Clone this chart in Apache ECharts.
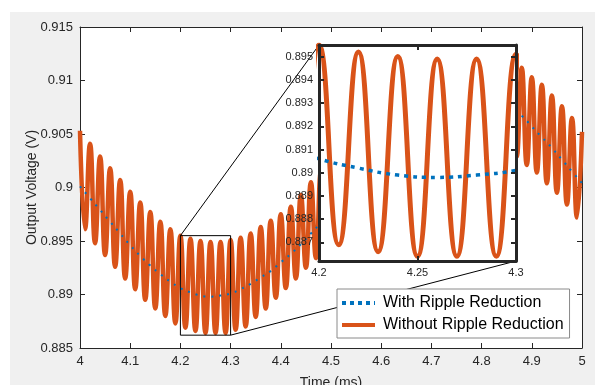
<!DOCTYPE html>
<html>
<head>
<meta charset="utf-8">
<script src="https://cdn.jsdelivr.net/npm/echarts@6/dist/echarts.min.js"></script>
<style>
	body { margin: 0; background: #fff; }
	#bg { position: absolute; left: 10px; top: 12px; width: 585px; height: 373px; background: #f0f0f0; }
	#chart { position: absolute; left: 0; top: 0; width: 595px; height: 385px; }
</style>
</head>
<body>
<div id="bg"></div>
<div id="chart"></div>
<script>
// 时间 (ms)，纹波曲线每个峰/谷一个点
var rippleTime = [
	4.00, 4.01, 4.02, 4.03, 4.04, 4.05, 4.06, 4.07, 4.08, 4.09,
	4.10, 4.11, 4.12, 4.13, 4.14, 4.15, 4.16, 4.17, 4.18, 4.19,
	4.20, 4.21, 4.22, 4.23, 4.24, 4.25, 4.26, 4.27, 4.28, 4.29,
	4.30, 4.31, 4.32, 4.33, 4.34, 4.35, 4.36, 4.37, 4.38, 4.39,
	4.40, 4.41, 4.42, 4.43, 4.44, 4.45, 4.46, 4.47, 4.48, 4.49,
	4.50, 4.51, 4.52, 4.53, 4.54, 4.55, 4.56, 4.57, 4.58, 4.59,
	4.60, 4.61, 4.62, 4.63, 4.64, 4.65, 4.66, 4.67, 4.68, 4.69,
	4.70, 4.71, 4.72, 4.73, 4.74, 4.75, 4.76, 4.77, 4.78, 4.79,
	4.80, 4.81, 4.82, 4.83, 4.84, 4.85, 4.86, 4.87, 4.88, 4.89,
	4.90, 4.91, 4.92, 4.93, 4.94, 4.95, 4.96, 4.97, 4.98, 4.99,
	5.00
];
// Without Ripple Reduction (V)
var withoutValue = [
	0.9053, 0.8961, 0.9041, 0.8948, 0.9029, 0.8937, 0.9018, 0.8926, 0.9007, 0.8915,
	0.8996, 0.8905, 0.8986, 0.8895, 0.8977, 0.8887, 0.8968, 0.8880, 0.8961, 0.8873,
	0.8955, 0.8869, 0.8952, 0.8866, 0.8950, 0.8864, 0.8949, 0.8864, 0.8949, 0.8864,
	0.8951, 0.8867, 0.8953, 0.8870, 0.8957, 0.8879, 0.8963, 0.8887, 0.8969, 0.8897,
	0.8975, 0.8906, 0.8982, 0.8915, 0.8993, 0.8925, 0.9005, 0.8934, 0.9015, 0.8944,
	0.9025, 0.8953, 0.9035, 0.8962, 0.9044, 0.8971, 0.9053, 0.8979, 0.9061, 0.8987,
	0.9069, 0.8994, 0.9076, 0.9001, 0.9083, 0.9007, 0.9089, 0.9012, 0.9095, 0.9017,
	0.9100, 0.9021, 0.9105, 0.9024, 0.9109, 0.9027, 0.9113, 0.9029, 0.9116, 0.9031,
	0.9119, 0.9032, 0.9121, 0.9032, 0.9122, 0.9031, 0.9120, 0.9029, 0.9112, 0.9021,
	0.9103, 0.9014, 0.9096, 0.9004, 0.9086, 0.8995, 0.9076, 0.8984, 0.9065, 0.8972,
	0.9052
];
// With Ripple Reduction (V)
var smoothTime = [
	4.00, 4.02, 4.04, 4.06, 4.08, 4.10, 4.12, 4.14, 4.16, 4.18,
	4.20, 4.22, 4.24, 4.26, 4.28, 4.30, 4.32, 4.34, 4.36, 4.38,
	4.40, 4.42, 4.44, 4.46, 4.48, 4.50, 4.52, 4.54, 4.56, 4.58,
	4.60, 4.62, 4.64, 4.66, 4.68, 4.70, 4.72, 4.74, 4.76, 4.78,
	4.80, 4.82, 4.84, 4.86, 4.88, 4.90, 4.92, 4.94, 4.96, 4.98,
	5.00
];
var withValue = [
	0.9001, 0.8990, 0.8979, 0.8968, 0.8957, 0.8946, 0.8936, 0.8927, 0.8919, 0.8912,
	0.8906, 0.8902, 0.8899, 0.8898, 0.8899, 0.8901, 0.8905, 0.8910, 0.8916, 0.8922,
	0.8930, 0.8938, 0.8947, 0.8957, 0.8967, 0.8977, 0.8987, 0.8996, 0.9005, 0.9013,
	0.9021, 0.9028, 0.9035, 0.9041, 0.9047, 0.9052, 0.9057, 0.9061, 0.9065, 0.9068,
	0.9071, 0.9073, 0.9074, 0.9073, 0.9067, 0.9057, 0.9047, 0.9037, 0.9026, 0.9015,
	0.9004
];
// 局部放大范围
var zoomX = [4.2, 4.3];
var zoomY = [0.8862, 0.8955];
var insetYTicks = [0.887, 0.888, 0.889, 0.890, 0.891, 0.892, 0.893, 0.894, 0.895];
var insetXTicks = [4.2, 4.25, 4.3];

var FONT = '"Liberation Sans", Arial, Helvetica, sans-serif';
var AXC = '#262626';
var BLUE = '#0072BD';
var ORANGE = '#D95319';

function zip(xs, ys) {
	var out = [];
	for (var i = 0; i < xs.length; i++) out.push([xs[i], ys[i]]);
	return out;
}
var withoutData = zip(rippleTime, withoutValue);
var withData = zip(smoothTime, withValue);
var zoomBox = [
	[zoomX[0], zoomY[0]], [zoomX[1], zoomY[0]], [zoomX[1], zoomY[1]],
	[zoomX[0], zoomY[1]], [zoomX[0], zoomY[0]]
];

function mainAxis(pos, show) {
	return {
		type: 'value', gridIndex: 0, position: pos,
		axisLine: { show: true, onZero: false, lineStyle: { color: AXC, width: 1 } },
		axisTick: { show: true, inside: true, length: 5, lineStyle: { color: AXC } },
		axisLabel: { show: show, color: AXC, fontSize: 13, fontFamily: FONT, margin: 7 },
		splitLine: { show: false }
	};
}
function insetAxis(pos, show) {
	return {
		type: 'value', gridIndex: 1, position: pos, z: 8,
		axisLine: { show: true, onZero: false, lineStyle: { color: '#262626', width: 3 } },
		axisTick: { show: true, inside: true, length: 5, lineStyle: { color: '#262626', width: 2 } },
		axisLabel: { show: show, color: AXC, fontSize: 11, fontFamily: FONT, margin: 6 },
		splitLine: { show: false }
	};
}

var xMain = mainAxis('bottom', true);
xMain.min = 4; xMain.max = 5; xMain.interval = 0.1;
xMain.name = 'Time (ms)'; xMain.nameLocation = 'middle'; xMain.nameGap = 28;
xMain.nameMoveOverlap = false;
xMain.nameTextStyle = { color: AXC, fontSize: 14, fontFamily: FONT };
var xMainTop = mainAxis('top', false);
xMainTop.min = 4; xMainTop.max = 5; xMainTop.interval = 0.1;

var yMain = mainAxis('left', true);
yMain.min = 0.885; yMain.max = 0.915; yMain.interval = 0.005;
yMain.name = 'Output Voltage (V)'; yMain.nameLocation = 'middle'; yMain.nameGap = 48;
yMain.nameMoveOverlap = false;
yMain.nameTextStyle = { color: AXC, fontSize: 14, fontFamily: FONT, verticalAlign: 'middle' };
var yMainRight = mainAxis('right', false);
yMainRight.min = 0.885; yMainRight.max = 0.915; yMainRight.interval = 0.005;

var xIn = insetAxis('bottom', true);
xIn.min = zoomX[0]; xIn.max = zoomX[1];
xIn.axisLabel.customValues = insetXTicks;
xIn.axisTick.customValues = insetXTicks;
xIn.axisLabel.margin = 6;
var xInTop = insetAxis('top', false);
xInTop.min = zoomX[0]; xInTop.max = zoomX[1];
xInTop.axisTick.customValues = insetXTicks;

var yIn = insetAxis('left', true);
yIn.min = zoomY[0]; yIn.max = zoomY[1];
yIn.axisLabel.customValues = insetYTicks;
yIn.axisLabel.formatter = function (v) { return String(+(+v).toFixed(3)); };
yIn.axisTick.customValues = insetYTicks;
var yInRight = insetAxis('right', false);
yInRight.min = zoomY[0]; yInRight.max = zoomY[1];
yInRight.axisTick.customValues = insetYTicks;

var noSymbol = { color: 'rgba(0,0,0,0)', borderColor: 'rgba(0,0,0,0)', borderWidth: 0 };

var chart = echarts.init(document.getElementById('chart'), null, { renderer: 'canvas' });
chart.setOption({
	animation: false,
	backgroundColor: 'transparent',
	textStyle: { fontFamily: FONT },
	grid: [
		{ left: 80, right: 13, top: 27, bottom: 37, show: true, backgroundColor: '#fff', borderWidth: 0, outerBoundsMode: 'none', containLabel: false },
		{ left: 319, top: 45, width: 197, height: 216, show: true, backgroundColor: '#fff', borderWidth: 0, z: 5, outerBoundsMode: 'none', containLabel: false }
	],
	xAxis: [xMain, xMainTop, xIn, xInTop],
	yAxis: [yMain, yMainRight, yIn, yInRight],
	legend: {
		orient: 'vertical', left: 337, top: 289, z: 10,
		backgroundColor: '#fff', borderColor: '#8a8a8a', borderWidth: 1, borderRadius: 0,
		padding: [6, 6, 5, 3], itemWidth: 33, itemHeight: 14, itemGap: 6,
		textStyle: { color: '#000', fontSize: 16, fontFamily: FONT, padding: [0, 0, 0, 3] },
		data: [
			{ name: 'With Ripple Reduction', itemStyle: noSymbol, lineStyle: { width: 4, type: [4, 4], color: BLUE } },
			{ name: 'Without Ripple Reduction', itemStyle: noSymbol, lineStyle: { width: 4, color: ORANGE } }
		]
	},
	series: [
		{
			name: 'Without Ripple Reduction', type: 'line', xAxisIndex: 0, yAxisIndex: 0,
			data: withoutData, smooth: true, symbol: 'none', z: 2,
			lineStyle: { color: ORANGE, width: 4.5 }, itemStyle: { color: ORANGE }
		},
		{
			name: 'With Ripple Reduction', type: 'line', xAxisIndex: 0, yAxisIndex: 0,
			data: withData, smooth: true, symbol: 'none', z: 2,
			lineStyle: { color: BLUE, width: 2, type: [2, 6] }, itemStyle: { color: BLUE }
		},
		{
			name: 'zoom', type: 'line', xAxisIndex: 0, yAxisIndex: 0,
			data: zoomBox, symbol: 'none', z: 3, silent: true,
			lineStyle: { color: '#000', width: 1 }
		},
		{
			name: 'Without Ripple Reduction', type: 'line', xAxisIndex: 2, yAxisIndex: 2,
			data: withoutData, smooth: true, symbol: 'none', z: 6, clip: true,
			lineStyle: { color: ORANGE, width: 5 }
		},
		{
			name: 'With Ripple Reduction', type: 'line', xAxisIndex: 2, yAxisIndex: 2,
			data: withData, smooth: true, symbol: 'none', z: 6, clip: true,
			lineStyle: { color: BLUE, width: 3.5, type: [4, 5] }
		}
	]
});

// 放大框与插图之间的连线
var p1 = chart.convertToPixel({ xAxisIndex: 0, yAxisIndex: 0 }, [zoomX[0], zoomY[1]]);
var q1 = chart.convertToPixel({ xAxisIndex: 2, yAxisIndex: 2 }, [zoomX[0], zoomY[1]]);
var p2 = chart.convertToPixel({ xAxisIndex: 0, yAxisIndex: 0 }, [zoomX[1], zoomY[0]]);
var q2 = chart.convertToPixel({ xAxisIndex: 2, yAxisIndex: 2 }, [zoomX[1], zoomY[0]]);
chart.setOption({
	graphic: [
		{ type: 'line', z: 4, silent: true, shape: { x1: p1[0], y1: p1[1], x2: q1[0], y2: q1[1] }, style: { stroke: '#000', lineWidth: 1 } },
		{ type: 'line', z: 4, silent: true, shape: { x1: p2[0], y1: p2[1], x2: q2[0], y2: q2[1] }, style: { stroke: '#000', lineWidth: 1 } }
	]
});
</script>
</body>
</html>
